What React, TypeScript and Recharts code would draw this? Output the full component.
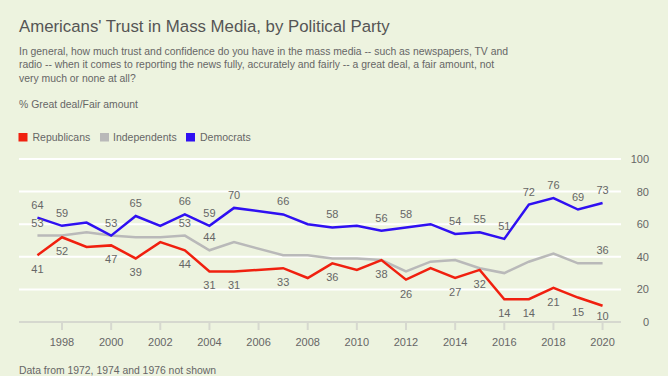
import { LineChart, Line, XAxis, YAxis, CartesianGrid, LabelList } from 'recharts';

// Gallup: trust in mass media by party (% great deal/fair amount)
const years = [1997, 1998, 1999, 2000, 2001, 2002, 2003, 2004, 2005, 2007, 2008, 2009, 2010, 2011, 2012, 2013, 2014, 2015, 2016, 2017, 2018, 2019, 2020];
const republicans = [41, 52, 46, 47, 39, 49, 44, 31, 31, 33, 27, 36, 32, 38, 26, 33, 27, 32, 14, 14, 21, 15, 10];
const independents = [53, 53, 55, 53, 52, 52, 53, 44, 49, 41, 41, 39, 39, 38, 31, 37, 38, 33, 30, 37, 42, 36, 36];
const democrats = [64, 59, 61, 53, 65, 59, 66, 59, 70, 66, 60, 58, 59, 56, 58, 60, 54, 55, 51, 72, 76, 69, 73];

// years that carry a value label
const partyLabelYears = [1997, 1998, 2000, 2001, 2003, 2004, 2005, 2007, 2009, 2011, 2012, 2014, 2015, 2016, 2017, 2018, 2019, 2020];
const indLabelYears = [1997, 2003, 2004, 2020];

const xTicks = [1998, 2000, 2002, 2004, 2006, 2008, 2010, 2012, 2014, 2016, 2018, 2020];
const yTicks = [0, 20, 40, 60, 80, 100];

const data = years.map((year, i) => ({
  year,
  rep: republicans[i],
  ind: independents[i],
  dem: democrats[i],
  repLbl: partyLabelYears.includes(year) ? republicans[i] : null,
  indLbl: indLabelYears.includes(year) ? independents[i] : null,
  demLbl: partyLabelYears.includes(year) ? democrats[i] : null,
}));

const RED = '#f0200f';
const GRAY = '#b9b9b9';
const BLUE = '#2f10f2';
const BG = '#edf3df';
const TEXT = '#666666';
const FONT = '"Liberation Sans", Arial, sans-serif';

// labels below the line stop just above the x axis
const makeLabel = (dy: number) => (props: any) => {
  const { x, y, value } = props;
  if (value === null || value === undefined) return null;
  const ty = dy > 0 ? Math.min(y + dy, 320) : y + dy;
  return (
    <text x={x} y={ty} textAnchor="middle" fontSize={11} fill={TEXT} fontFamily={FONT}>
      {value}
    </text>
  );
};

const XTick = (props: any) => {
  const { x, payload } = props;
  return (
    <text x={x} y={345.5} textAnchor="middle" fontSize={11} fill={TEXT} fontFamily={FONT}>
      {payload.value}
    </text>
  );
};

const YTick = (props: any) => {
  const { y, payload } = props;
  return (
    <text x={649} y={y + 4} textAnchor="end" fontSize={11} fill={TEXT} fontFamily={FONT}>
      {payload.value}
    </text>
  );
};

export default function App() {
  return (
    <div style={{ position: 'absolute', left: 0, top: 0, width: 668, height: 376, background: BG, overflow: 'hidden' }}>
      <svg width={668} height={376} style={{ position: 'absolute', left: 0, top: 0 }} fontFamily={FONT}>
        <text x={19} y={32} fontSize={16.8} fill="#555555">Americans' Trust in Mass Media, by Political Party</text>
        <text x={19} y={55} fontSize={10.4} fill={TEXT}>In general, how much trust and confidence do you have in the mass media -- such as newspapers, TV and</text>
        <text x={19} y={68.3} fontSize={10.4} fill={TEXT}>radio -- when it comes to reporting the news fully, accurately and fairly -- a great deal, a fair amount, not</text>
        <text x={19} y={81.6} fontSize={10.4} fill={TEXT}>very much or none at all?</text>
        <text x={19} y={108} fontSize={10.4} fill={TEXT}>% Great deal/Fair amount</text>
        <rect x={18.5} y={133} width={9} height={8.5} fill={RED} />
        <text x={32.5} y={141} fontSize={10.5} fill={TEXT}>Republicans</text>
        <rect x={100} y={133} width={9} height={8.5} fill={GRAY} />
        <text x={113} y={141} fontSize={10.5} fill={TEXT}>Independents</text>
        <rect x={186} y={133} width={9} height={8.5} fill={BLUE} />
        <text x={200} y={141} fontSize={10.5} fill={TEXT}>Democrats</text>
        <text x={19} y={374} fontSize={10.4} fill={TEXT}>Data from 1972, 1974 and 1976 not shown</text>
      </svg>
      <div style={{ position: 'absolute', left: 0, top: 0 }}>
        <LineChart width={668} height={376} data={data} margin={{ top: 159, right: 7, bottom: 24, left: 19 }}>
          <CartesianGrid vertical={false} stroke="#ffffff" strokeWidth={2} />
          <XAxis
            dataKey="year"
            type="number"
            domain={[1996.25, 2020.75]}
            ticks={xTicks}
            height={30}
            axisLine={{ stroke: '#d6d8cf', strokeWidth: 2 }}
            tickLine={{ stroke: '#d6d8cf', strokeWidth: 2 }}
            tickSize={8}
            tick={<XTick />}
            interval={0}
          />
          <YAxis
            orientation="right"
            domain={[0, 100]}
            ticks={yTicks}
            width={40}
            axisLine={false}
            tickLine={false}
            tick={<YTick />}
          />
          <Line dataKey="ind" stroke={GRAY} strokeWidth={2.5} dot={false} isAnimationActive={false}>
            <LabelList dataKey="indLbl" content={makeLabel(-9)} />
          </Line>
          <Line dataKey="rep" stroke={RED} strokeWidth={2.5} dot={false} isAnimationActive={false}>
            <LabelList dataKey="repLbl" content={makeLabel(18)} />
          </Line>
          <Line dataKey="dem" stroke={BLUE} strokeWidth={2.5} dot={false} isAnimationActive={false}>
            <LabelList dataKey="demLbl" content={makeLabel(-9)} />
          </Line>
        </LineChart>
      </div>
    </div>
  );
}
